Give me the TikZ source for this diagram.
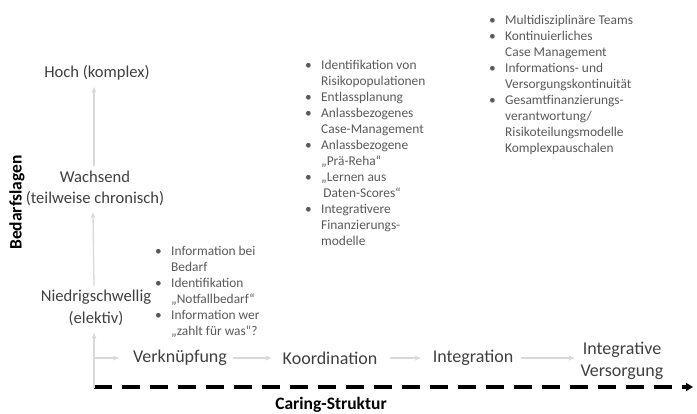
\documentclass[tikz,border=0pt]{standalone}
\usepackage{fontspec}
\setmainfont{Carlito}
\usetikzlibrary{arrows.meta}
\definecolor{lbl}{HTML}{404040}
\definecolor{btx}{HTML}{595959}
\definecolor{arr}{HTML}{D9D9D9}
\newcommand{\bitem}[1]{\makebox[16pt][l]{•}#1}
\newcommand{\bcont}[1]{\hspace*{16pt}#1}
\tikzset{
  lab/.style={text=lbl, font=\fontsize{16.6}{21.5}\selectfont, align=center, inner sep=0pt},
  stage/.style={text=lbl, font=\fontsize{18}{22}\selectfont, align=center, inner sep=0pt},
  blist/.style={text=btx, font=\fontsize{13.4}{16}\selectfont, align=left, inner sep=0pt, anchor=north west},
  ax/.style={text=black, font=\fontsize{17.5}{20}\selectfont\bfseries, inner sep=0pt},
  garrow/.style={draw=arr, line width=1.3pt, -{Stealth[length=6pt,width=5pt]}},
}
\begin{document}
\begin{tikzpicture}[x=1pt,y=-1pt]
\useasboundingbox (0,0) rectangle (697,413);
% level labels
\node[lab] (hoch) at (97,73) {Hoch (komplex)};
\node[lab] (wachsend) at (95,188.5) {Wachsend\\(teilweise chronisch)};
\node[lab] (niedrig) at (96,308) {Niedrigschwellig\\(elektiv)};
% stage labels
\node[stage] (verk) at (180,358) {Verknüpfung};
\node[stage] (koord) at (330,358) {Koordination};
\node[stage] (integ) at (473,358) {Integration};
\node[stage] (intver) at (622,361) {Integrative\\Versorgung};
% axis labels
\node[ax, rotate=90] (bed) at (17,202.5) {Bedarfslagen};
\node[ax] (caring) at (331,405) {Caring-Struktur};
% axis
\coordinate (origin) at (94,387);
\coordinate (axend) at (693,387);
\draw[line width=4pt, dash pattern=on 18pt off 10pt, -{Triangle[length=7pt,width=8pt]}] (origin) -- (axend);
% vertical arrows
\draw[garrow] (94,166) -- (94,87);
\draw[garrow] ([xshift=-2pt,yshift=4pt]niedrig.north) -- ([xshift=-2pt,yshift=-6pt]wachsend.south);
\draw[garrow] ([yshift=-1pt]origin) -- ([yshift=-7pt]niedrig.south -| origin);
\draw[garrow] (origin |- verk) -- ([xshift=-14pt]verk.west);
% horizontal arrows
\draw[garrow, shorten <=6pt, shorten >=11pt] (verk.east) -- (koord.west);
\draw[garrow, shorten <=13pt, shorten >=12pt] (koord.east) -- (koord.east -| integ.west);
\draw[garrow, shorten <=8pt, shorten >=6pt] (integ.east) -- (integ.east -| intver.west);
% bullet lists
\node[blist] (list1) at (155,246) {\bitem{Information bei}\\\bcont{Bedarf}\\\bitem{Identifikation}\\\bcont{„Notfallbedarf“}\\\bitem{Information wer}\\\bcont{„zahlt für was“?}};
\node[blist] (list2) at (305,60) {\bitem{Identifikation von}\\\bcont{Risikopopulationen}\\\bitem{Entlassplanung}\\\bitem{Anlassbezogenes}\\\bcont{Case-Management}\\\bitem{Anlassbezogene}\\\bcont{„Prä-Reha“}\\\bitem{„Lernen aus}\\\bcont{\,Daten-Scores“}\\\bitem{Integrativere}\\\bcont{Finanzierungs-}\\\bcont{modelle}};
\node[blist] (list3) at (489,15) {\bitem{Multidisziplinäre Teams}\\\bitem{Kontinuierliches}\\\bcont{Case Management}\\\bitem{Informations- und}\\\bcont{Versorgungskontinuität}\\\bitem{Gesamtfinanzierungs-}\\\bcont{verantwortung/}\\\bcont{Risikoteilungsmodelle}\\\bcont{Komplexpauschalen}};
\end{tikzpicture}
\end{document}
